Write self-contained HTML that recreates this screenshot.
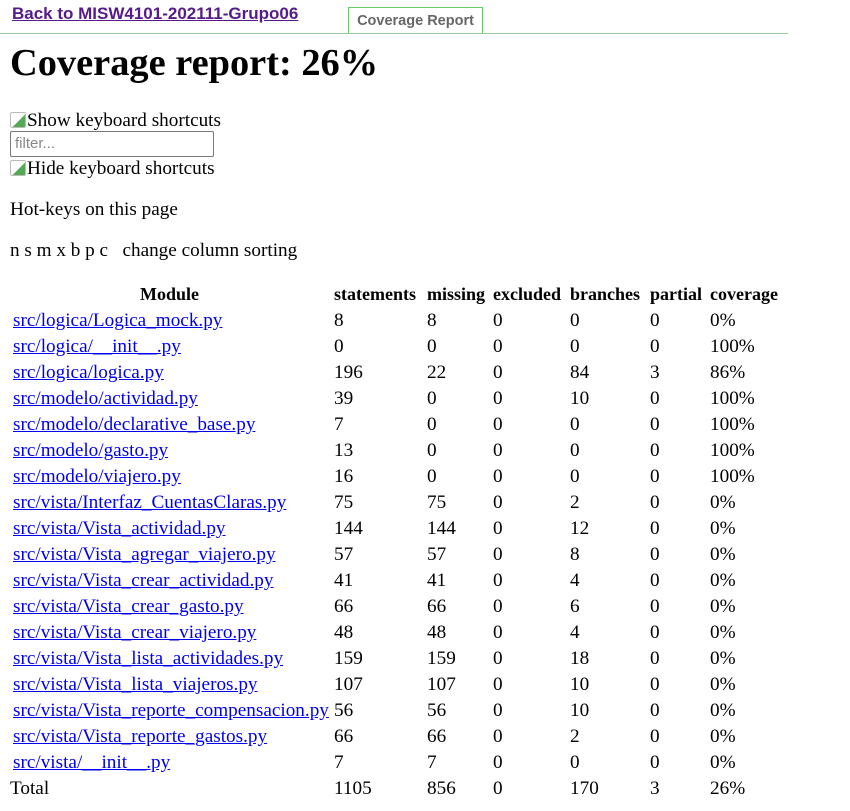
<!DOCTYPE html>
<html><head><meta charset="utf-8"><style>
body{margin:0;width:850px;height:811px;background:#fff;font-family:"Liberation Serif",serif;font-size:19.2px;color:#000;position:relative;overflow:hidden}
.a{position:absolute;white-space:nowrap;line-height:22px}
a{color:#00e;text-decoration:underline}
.sans{font-family:"Liberation Sans",sans-serif}
.img{display:inline-block;width:16px;height:16px;border:1px solid #bbb;border-radius:2px;background:linear-gradient(135deg,#fff 55%,#5a5 56%);vertical-align:-2px;margin-right:1px;box-sizing:border-box}
</style></head><body>
<a class="a sans" href="#" style="left:12px;top:3px;font-size:17px;font-weight:bold;color:#551a8b">Back to MISW4101-202111-Grupo06</a>
<div class="a sans" style="left:348px;top:7px;width:135px;height:26px;border:1px solid #6c6;border-bottom:none;box-sizing:border-box;font-size:14.5px;font-weight:bold;color:#666;text-align:center;line-height:26px">Coverage Report</div>
<div class="a" style="left:0;top:33px;width:788px;height:1px;background:#9c9"></div>
<div class="a" style="left:10px;top:41px;font-size:38.4px;font-weight:bold;line-height:44px">Coverage report: 26%</div>
<div class="a" style="left:10px;top:110px"><span class="img"></span>Show keyboard shortcuts</div>
<div class="a sans" style="left:10px;top:131px;width:204px;height:26px;border:1px solid #777;border-radius:2px;box-sizing:border-box;font-size:15px;color:#888;line-height:24px;padding-left:4px">filter...</div>
<div class="a" style="left:10px;top:158px"><span class="img"></span>Hide keyboard shortcuts</div>
<div class="a" style="left:10px;top:199px">Hot-keys on this page</div>
<div class="a" style="left:10px;top:240px">n s m x b p c &nbsp; change column sorting</div>
<div id="tbl"></div>
<script>
const modules=["src/logica/Logica_mock.py","src/logica/__init__.py","src/logica/logica.py","src/modelo/actividad.py","src/modelo/declarative_base.py","src/modelo/gasto.py","src/modelo/viajero.py","src/vista/Interfaz_CuentasClaras.py","src/vista/Vista_actividad.py","src/vista/Vista_agregar_viajero.py","src/vista/Vista_crear_actividad.py","src/vista/Vista_crear_gasto.py","src/vista/Vista_crear_viajero.py","src/vista/Vista_lista_actividades.py","src/vista/Vista_lista_viajeros.py","src/vista/Vista_reporte_compensacion.py","src/vista/Vista_reporte_gastos.py","src/vista/__init__.py"];
const statements=[8,0,196,39,7,13,16,75,144,57,41,66,48,159,107,56,66,7];
const missing=[8,0,22,0,0,0,0,75,144,57,41,66,48,159,107,56,66,7];
const excluded=[0,0,0,0,0,0,0,0,0,0,0,0,0,0,0,0,0,0];
const branches=[0,0,84,10,0,0,0,2,12,8,4,6,4,18,10,10,2,0];
const partial=[0,0,3,0,0,0,0,0,0,0,0,0,0,0,0,0,0,0];
const coverage=["0%","100%","86%","100%","100%","100%","100%","0%","0%","0%","0%","0%","0%","0%","0%","0%","0%","0%"];
const totals=["Total","1105","856","0","170","3","26%"];
const headers=["Module","statements","missing","excluded","branches","partial","coverage"];
const colX=[13,334,427,493,570,650,710];
const tbl=document.getElementById('tbl');
function cell(txt,x,y,bold,name,link){
  const d=document.createElement(link?'a':'div');
  d.className='a';d.style.left=x+'px';d.style.top=y+'px';
  if(bold){d.style.fontWeight='bold';d.style.fontSize='18px';}
  if(link)d.href='#';
  d.textContent=txt;
  
  
  tbl.appendChild(d);return d;
}
headers.forEach((h,i)=>{
  const d=cell(h,colX[i],283,true,'header-'+h,false);
  d.style.cursor='pointer';
  if(i===0){d.style.left='140px';}
});
const rowTop=i=>310+i*26;
modules.forEach((m,i)=>{
  const y=rowTop(i);
  cell(m,colX[0],y,false,'module-link',true);
  cell(String(statements[i]),colX[1],y,false,'statements-cell',false);
  cell(String(missing[i]),colX[2],y,false,'missing-cell',false);
  cell(String(excluded[i]),colX[3],y,false,'excluded-cell',false);
  cell(String(branches[i]),colX[4],y,false,'branches-cell',false);
  cell(String(partial[i]),colX[5],y,false,'partial-cell',false);
  cell(coverage[i],colX[6],y,false,'coverage-cell',false);
});
totals.forEach((t,i)=>{cell(t,i===0?10:colX[i],rowTop(modules.length),false,'total-cell',false);});
</script>
</body></html>
